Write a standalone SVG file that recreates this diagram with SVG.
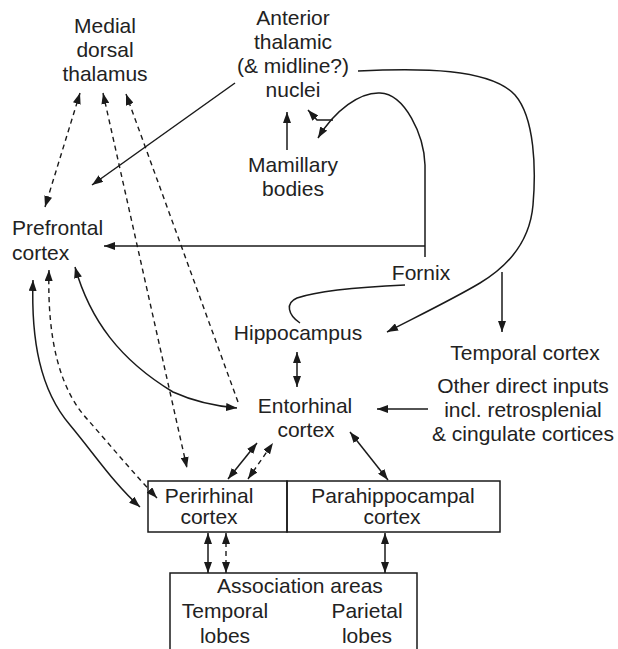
<svg xmlns="http://www.w3.org/2000/svg" width="618" height="649" viewBox="0 0 618 649">
<style>
text{font-family:"Liberation Sans",Arial,sans-serif;font-size:21px;fill:#222;text-anchor:middle}
.s{fill:none;stroke:#1a1a1a;stroke-width:1.5}
.d{fill:none;stroke:#1a1a1a;stroke-width:1.4;stroke-dasharray:5 4}
.e{marker-end:url(#ah)}
.b{marker-start:url(#ah);marker-end:url(#ah)}
.box{fill:none;stroke:#1a1a1a;stroke-width:1.5}
</style>
<defs>
<marker id="ah" markerUnits="userSpaceOnUse" markerWidth="11" markerHeight="8" refX="11" refY="4" orient="auto-start-reverse"><path d="M0,0 L11,4 L0,8 Z" fill="#1a1a1a"/></marker>
</defs>
<rect width="618" height="649" fill="#fff"/>
<g id="connectors">
<path class="s e" d="M235,83 L92,185"/>
<path class="s e" d="M287,150 L287,112"/>
<path class="d b" d="M80,93 L45,207"/>
<path class="d b" d="M103,93 L187,468"/>
<path class="d e" d="M238,402 L126,94"/>
<path class="s e" d="M425,257 L425,165 C424,135 405,94 380,93 C360,92 335,110 318,138"/>
<path class="s e" d="M333,120 L317,120 L308,110"/>
<path class="s e" d="M425,246 L104,246"/>
<path class="s e" d="M358,71 C420,68 490,68 515,95 C535,118 536,170 533,205 C530,240 510,265 480,283 C455,298 420,315 387,332"/>
<path class="s e" d="M502,272 L502,332"/>
<path class="s" d="M405,285 C360,287 320,290 297,298 C285,303 288,315 300,323"/>
<path class="s b" d="M297,352 L297,387"/>
<path class="s b" d="M75,267 C90,320 120,360 173,392 C195,402 215,406 237,408"/>
<path class="s e" d="M428,409 L377,409"/>
<path class="s b" d="M33,280 C31,340 40,390 70,425 C95,455 115,485 140,507"/>
<path class="d b" d="M49,270 C47,340 60,390 88,420 C110,445 135,475 157,498"/>
<path class="s b" d="M228,479 L257,443"/>
<path class="d b" d="M248,479 L273,443"/>
<path class="s b" d="M350,432 L388,480"/>
<path class="s b" d="M208,533 L208,573"/>
<path class="d b" d="M226,533 L226,573"/>
<path class="s b" d="M385,533 L385,573"/>
</g>
<g id="medial-dorsal-thalamus"><text x="105" y="33">Medial</text><text x="105" y="57">dorsal</text><text x="105" y="81">thalamus</text></g>
<g id="anterior-thalamic"><text x="293" y="25">Anterior</text><text x="293" y="49">thalamic</text><text x="293" y="73">(&amp; midline?)</text><text x="293" y="97">nuclei</text></g>
<g id="mamillary-bodies"><text x="293" y="172">Mamillary</text><text x="293" y="196">bodies</text></g>
<g id="prefrontal-cortex"><text x="12" y="235" style="text-anchor:start">Prefrontal</text><text x="12" y="260" style="text-anchor:start">cortex</text></g>
<g id="fornix"><text x="421" y="280">Fornix</text></g>
<g id="hippocampus"><text x="298" y="340">Hippocampus</text></g>
<g id="temporal-cortex"><text x="525" y="360">Temporal cortex</text></g>
<g id="entorhinal-cortex"><text x="305" y="413">Entorhinal</text><text x="306" y="437">cortex</text></g>
<g id="other-inputs"><text x="523" y="393">Other direct inputs</text><text x="523" y="417">incl. retrosplenial</text><text x="523" y="441">&amp; cingulate cortices</text></g>
<g id="perirhinal-cortex"><rect class="box" x="148" y="481" width="139" height="51"/><text x="209" y="503">Perirhinal</text><text x="209" y="524">cortex</text></g>
<g id="parahippocampal-cortex"><rect class="box" x="287" y="481" width="213" height="51"/><text x="393" y="503">Parahippocampal</text><text x="392" y="524">cortex</text></g>
<g id="association-areas"><path class="box" d="M170,652 L170,573 L417,573 L417,652"/><text x="300" y="593">Association areas</text><text x="225" y="618">Temporal</text><text x="225" y="643">lobes</text><text x="367" y="618">Parietal</text><text x="367" y="643">lobes</text></g>
</svg>
